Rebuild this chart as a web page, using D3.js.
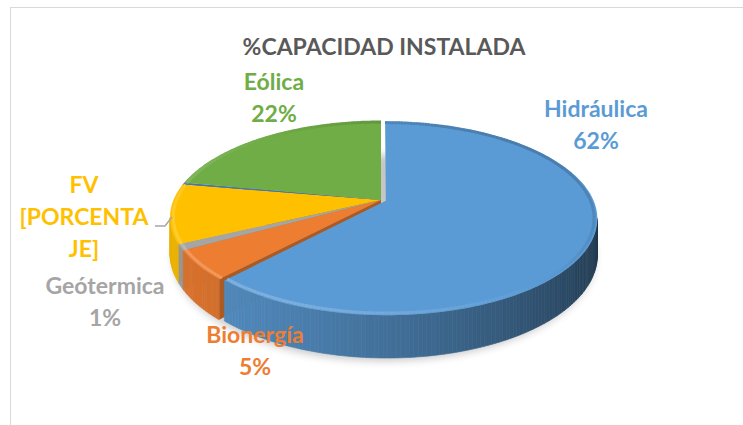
<!DOCTYPE html>
<html>
<head>
<meta charset="utf-8">
<script src="https://cdn.jsdelivr.net/npm/d3@7"></script>
<style>
body { margin: 0; background: #fff; }
text { font-family: Lato, "Open Sans", sans-serif; font-weight: bold; }
</style>
</head>
<body>
<div id="chart"></div>
<script>
// chart data
const categories = ["Hidráulica", "Bionergía", "Geótermica", "FV", "Otros", "Eólica"];
const values = [62, 5, 1, 10, 0.3, 22];
const colors = ["#5B9BD5", "#ED7D31", "#A5A5A5", "#FFC000", "#4472C4", "#70AD47"];
const fvPlaceholder = ["[PORCENTA", "JE]"];
const title = "%CAPACIDAD INSTALADA";

// layout
var width = 743, height = 425;
var cx = 381, cy = 200;          // projected pie centre
var A = 207.5, B = 93.3;         // horizontal / vertical radius factors
var K = 0.181;                   // perspective strength
var T = 35;                      // thickness of the pie
var explode = {"Hidráulica": 0.025};
var labelPos = {
    "Hidráulica": [596, 117],
    "Bionergía": [255, 343],
    "Geótermica": [105, 294],
    "FV": [84, 193],
    "Eólica": [274, 90]
};
var lineStep = 32;

var svg = d3.select("#chart").append("svg")
    .attr("width", width)
    .attr("height", height);

var defs = svg.append("defs");
defs.append("filter").attr("id", "blur")
    .attr("x", "-20%").attr("y", "-20%").attr("width", "140%").attr("height", "140%")
    .append("feGaussianBlur").attr("stdDeviation", 4);

// chart frame
svg.append("rect")
    .attr("x", 10.5).attr("y", 7.5)
    .attr("width", 800).attr("height", 500)
    .attr("fill", "#fff")
    .attr("stroke", "#d9d9d9");

// perspective projection of a point on the disc
function proj(u, v, h) {
    var d = 1 - K * v;
    return [cx + A * u / d, cy + (B * v + T * h) / d];
}
function pt(phi, r, h, off) {
    return proj(off.u + r * Math.sin(phi), off.v - r * Math.cos(phi), h);
}
function shade(c, b) {
    var rgb = d3.rgb(c);
    return d3.rgb(rgb.r * b, rgb.g * b, rgb.b * b).formatHex();
}
function bright(phi) {
    return 0.62 + 0.3 * Math.cos(phi - 250 * Math.PI / 180);
}
var line = d3.line();

var data = categories.map((c, i) => ({name: c, value: values[i], color: colors[i]}));
var pie = d3.pie().sort(null).value(d => d.value);
var slices = pie(data);

slices.forEach(s => {
    var e = explode[s.data.name] || 0;
    var mid = (s.startAngle + s.endAngle) / 2;
    s.off = {u: e * Math.sin(mid), v: -e * Math.cos(mid)};
});

// arc sample points between two angles
function arcAngles(a0, a1) {
    var n = Math.max(1, Math.ceil((a1 - a0) / (Math.PI / 180)));
    return d3.range(n + 1).map(i => a0 + (a1 - a0) * i / n);
}

// shadow below the pie
var shadowPts = arcAngles(0, 2 * Math.PI).map(a => {
    var p = pt(a, 1, 1, {u: 0, v: 0});
    return [p[0] + 3, p[1] + 4];
});
svg.append("path")
    .attr("d", line(shadowPts) + "Z")
    .attr("fill", "#000")
    .attr("opacity", 0.22)
    .attr("filter", "url(#blur)");

// radial cut faces (only those turned to the viewer)
var faces = [];
slices.forEach(s => {
    [[s.startAngle, -1], [s.endAngle, 1]].forEach(([phi, dir]) => {
        var nu = dir * Math.cos(phi), nv = dir * Math.sin(phi);
        var mu = s.off.u + 0.5 * Math.sin(phi), mv = s.off.v - 0.5 * Math.cos(phi);
        var dot = nu * (0 - mu) + nv * (1 / K - mv);
        if (dot > 0.05) faces.push({s: s, phi: phi, depth: mv});
    });
});
faces.sort((a, b) => a.depth - b.depth);
svg.append("g").selectAll("path")
    .data(faces).enter().append("path")
        .attr("d", f => line([pt(f.phi, 0, 0, f.s.off), pt(f.phi, 1, 0, f.s.off),
                              pt(f.phi, 1, 1, f.s.off), pt(f.phi, 0, 1, f.s.off)]) + "Z")
        .attr("fill", f => shade(f.s.data.color, 0.72));

// outer walls, drawn in thin segments for shading
var visA = Math.acos(-K), visB = 2 * Math.PI - Math.acos(-K);
var segs = [];
slices.forEach(s => {
    var a0 = Math.max(s.startAngle, visA), a1 = Math.min(s.endAngle, visB);
    if (a1 <= a0) return;
    var angs = arcAngles(a0, a1);
    for (var i = 0; i < angs.length - 1; i++) {
        segs.push({s: s, a0: angs[i], a1: angs[i + 1]});
    }
});
svg.append("g").selectAll("path")
    .data(segs).enter().append("path")
        .attr("d", g => line([pt(g.a0, 1, 0, g.s.off), pt(g.a1, 1, 0, g.s.off),
                              pt(g.a1, 1, 1, g.s.off), pt(g.a0, 1, 1, g.s.off)]) + "Z")
        .attr("fill", g => shade(g.s.data.color, bright((g.a0 + g.a1) / 2)))
        .attr("stroke", g => shade(g.s.data.color, bright((g.a0 + g.a1) / 2)))
        .attr("stroke-width", 0.6);

// top faces
svg.append("g").selectAll("path")
    .data(slices).enter().append("path")
        .attr("d", s => line([pt(0, 0, 0, s.off)].concat(
            arcAngles(s.startAngle, s.endAngle).map(a => pt(a, 1, 0, s.off)))) + "Z")
        .attr("fill", s => s.data.color);

// bevel highlight along the rim
var rimSegs = [];
slices.forEach(s => {
    var angs = arcAngles(s.startAngle, s.endAngle);
    for (var i = 0; i < angs.length - 1; i++) rimSegs.push({s: s, a0: angs[i], a1: angs[i + 1]});
});
svg.append("g").selectAll("path")
    .data(rimSegs).enter().append("path")
        .attr("d", g => line([pt(g.a0, 0.985, 0, g.s.off), pt(g.a1, 0.985, 0, g.s.off)]))
        .attr("fill", "none")
        .attr("stroke-width", 3)
        .attr("stroke", g => {
            var c = Math.cos((g.a0 + g.a1) / 2 - 230 * Math.PI / 180);
            return c > 0 ? d3.interpolateRgb(g.s.data.color, "#fff")(0.22 * c)
                         : shade(g.s.data.color, 1 + 0.2 * c);
        });

// title
svg.append("text")
    .attr("x", 384).attr("y", 55)
    .attr("text-anchor", "middle")
    .attr("font-size", 23)
    .attr("fill", "#595959")
    .text(title);

// data labels
var fmt = d3.format(".0%");
var total = d3.sum(values);
var labels = svg.append("g");
data.forEach(d => {
    var pos = labelPos[d.name];
    if (!pos) return;
    var lines = d.name == "FV" ? [d.name].concat(fvPlaceholder) : [d.name, fmt(d.value / total)];
    labels.selectAll(null)
        .data(lines).enter().append("text")
            .attr("x", pos[0])
            .attr("y", (t, i) => pos[1] + i * lineStep)
            .attr("text-anchor", "middle")
            .attr("font-size", 23)
            .attr("fill", d.color)
            .text(t => t);
});

// leader line for FV
svg.append("path")
    .attr("d", "M155,226L165,226L172,217")
    .attr("fill", "none")
    .attr("stroke", "#a6a6a6")
    .attr("stroke-width", 1.5);
</script>
</body>
</html>
